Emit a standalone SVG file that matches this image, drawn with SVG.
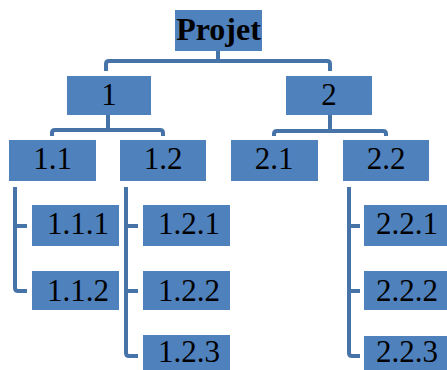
<svg xmlns="http://www.w3.org/2000/svg" width="447" height="370" viewBox="0 0 447 370">
<style>
.box{fill:#4f81bd}
.t{font-family:"Liberation Serif","Times New Roman",serif;font-size:31px;fill:#000;text-anchor:middle}
.b{font-weight:bold;font-size:32px}
.c{fill:none;stroke:#4673a8;stroke-width:4;stroke-linejoin:round;stroke-linecap:butt}
</style>
<rect width="447" height="370" fill="#fff"/>
<g id="connectors">
<path class="c" d="M218,51 V61 M106,71 V64 Q106,61 109,61 H327 Q330,61 330,64 V71"/>
<path class="c" d="M108,115 V130 M52,136 V133 Q52,130 55,130 H160 Q163,130 163,133 V136"/>
<path class="c" d="M330,115 V131 M274,136 V134 Q274,131 277,131 H383 Q386,131 386,134 V136"/>
<path class="c" d="M15,187 V288 Q15,291 18,291 H27 M15,226 H27"/>
<path class="c" d="M126,187 V353 Q126,356 129,356 H138 M126,226 H138 M126,291 H138"/>
<path class="c" d="M349,187 V353 Q349,356 352,356 H360 M349,226 H360 M349,291 H360"/>
</g>
<g id="n-projet"><rect class="box" x="175" y="10" width="87" height="41"/><text class="t b" x="218.5" y="40">Projet</text></g>
<g id="n-1"><rect class="box" x="67" y="76" width="84" height="39"/><text class="t" x="109" y="105">1</text></g>
<g id="n-2"><rect class="box" x="286" y="76" width="86" height="39"/><text class="t" x="329" y="105">2</text></g>
<g id="n-1-1"><rect class="box" x="9" y="140" width="87" height="41"/><text class="t" x="52.5" y="169">1.1</text></g>
<g id="n-1-2"><rect class="box" x="120" y="140" width="86" height="41"/><text class="t" x="163" y="169">1.2</text></g>
<g id="n-2-1"><rect class="box" x="231" y="140" width="87" height="41"/><text class="t" x="274" y="169">2.1</text></g>
<g id="n-2-2"><rect class="box" x="343" y="140" width="86" height="41"/><text class="t" x="386" y="169">2.2</text></g>
<g id="n-1-1-1"><rect class="box" x="32" y="205" width="87" height="41"/><text class="t" x="78" y="234">1.1.1</text></g>
<g id="n-1-1-2"><rect class="box" x="32" y="271" width="87" height="39"/><text class="t" x="78" y="301">1.1.2</text></g>
<g id="n-1-2-1"><rect class="box" x="143" y="205" width="87" height="41"/><text class="t" x="189" y="234">1.2.1</text></g>
<g id="n-1-2-2"><rect class="box" x="143" y="271" width="87" height="39"/><text class="t" x="189" y="301">1.2.2</text></g>
<g id="n-1-2-3"><rect class="box" x="143" y="335" width="87" height="35"/><text class="t" x="189" y="362">1.2.3</text></g>
<g id="n-2-2-1"><rect class="box" x="364" y="205" width="83" height="41"/><text class="t" x="407" y="234">2.2.1</text></g>
<g id="n-2-2-2"><rect class="box" x="364" y="271" width="83" height="39"/><text class="t" x="407" y="301">2.2.2</text></g>
<g id="n-2-2-3"><rect class="box" x="364" y="336" width="83" height="34"/><text class="t" x="407" y="362">2.2.3</text></g>
</svg>
